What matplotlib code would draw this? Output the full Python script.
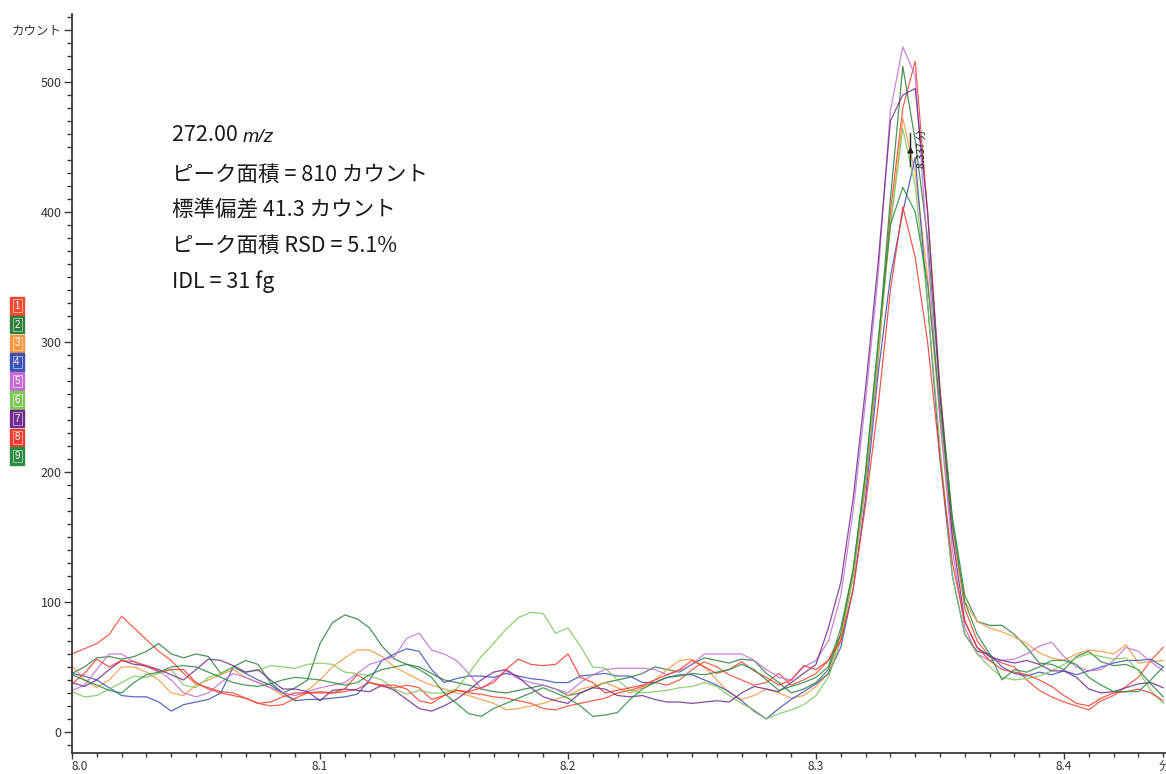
import numpy as np
import matplotlib.pyplot as plt
from matplotlib.patches import Rectangle
from matplotlib.ticker import MultipleLocator

plt.rcParams['font.family'] = ['Liberation Sans Narrow', 'Noto Sans CJK JP', 'DejaVu Sans']

# retention time grid (min), one scan every 0.005 min
rt = np.round(8.0 + 0.005 * np.arange(89), 3)

# counts for the nine replicate injections
inj1 = [60, 64, 68, 75, 89, 80, 71, 62, 55, 45,
        37, 34, 31, 30, 26, 22, 20, 21, 26, 30,
        31, 30, 31, 33, 38, 35, 34, 36, 34, 25,
        28, 32, 30, 29, 27, 26, 24, 22, 18, 17,
        20, 22, 24, 26, 30, 32, 35, 38, 36, 40,
        48, 54, 50, 44, 40, 36, 38, 45, 36, 40,
        45, 55, 75, 120, 190, 285, 400, 480, 516, 400,
        265, 160, 95, 70, 58, 53, 50, 40, 32, 27,
        23, 20, 17, 24, 28, 35, 42, 55, 65]
inj2 = [45, 50, 57, 58, 56, 58, 62, 68, 60, 57,
        60, 58, 45, 50, 55, 52, 38, 30, 34, 40,
        68, 84, 90, 87, 80, 66, 56, 52, 50, 45,
        40, 38, 36, 33, 31, 30, 32, 34, 36, 33,
        28, 30, 34, 38, 40, 42, 45, 50, 48, 46,
        52, 57, 55, 53, 56, 55, 45, 38, 30, 33,
        38, 48, 75, 125, 200, 295, 410, 512, 455, 380,
        260, 165, 105, 85, 82, 82, 75, 65, 53, 52,
        48, 58, 62, 54, 51, 52, 48, 37, 27]
inj3 = [51, 40, 34, 40, 50, 50, 46, 40, 30, 28,
        36, 40, 44, 48, 42, 38, 34, 28, 25, 32,
        40, 50, 57, 63, 63, 58, 50, 45, 40, 36,
        33, 30, 28, 25, 22, 17, 18, 20, 22, 25,
        28, 33, 35, 38, 34, 30, 34, 40, 48, 55,
        56, 50, 40, 30, 25, 28, 33, 30, 26, 28,
        35, 45, 72, 120, 195, 290, 390, 472, 430, 350,
        240, 150, 100, 85, 80, 77, 73, 68, 61, 57,
        55, 60, 63, 62, 60, 67, 53, 54, 55]
inj4 = [45, 43, 40, 34, 28, 27, 27, 23, 16, 21,
        23, 25, 30, 50, 45, 40, 36, 30, 24, 25,
        25, 26, 27, 29, 40, 55, 60, 64, 62, 48,
        38, 41, 43, 43, 42, 45, 43, 41, 40, 38,
        38, 43, 44, 45, 43, 43, 38, 38, 42, 44,
        44, 40, 36, 31, 24, 16, 10, 18, 25, 31,
        37, 45, 65, 110, 180, 275, 350, 400, 442, 330,
        210, 120, 75, 62, 60, 50, 45, 43, 46, 44,
        47, 44, 47, 50, 53, 55, 55, 56, 50]
inj5 = [32, 36, 48, 60, 60, 54, 50, 47, 40, 30,
        27, 30, 38, 45, 42, 38, 34, 30, 28, 31,
        34, 36, 38, 45, 52, 55, 58, 72, 76, 63,
        60, 55, 45, 33, 40, 47, 41, 38, 36, 33,
        30, 38, 44, 48, 49, 49, 49, 48, 44, 47,
        52, 60, 60, 60, 60, 55, 48, 42, 40, 50,
        55, 70, 105, 170, 255, 350, 478, 527, 505, 370,
        240, 140, 80, 60, 55, 55, 56, 60, 66, 69,
        58, 50, 47, 48, 55, 65, 62, 54, 47]
inj6 = [31, 27, 28, 33, 38, 43, 42, 45, 48, 36,
        34, 42, 45, 50, 46, 47, 51, 50, 49, 52,
        53, 52, 46, 45, 43, 40, 33, 29, 32, 30,
        30, 33, 45, 58, 68, 79, 88, 92, 91, 76,
        80, 66, 50, 49, 40, 32, 30, 31, 32, 34,
        35, 38, 35, 28, 22, 17, 10, 14, 17, 21,
        28, 42, 70, 120, 195, 290, 390, 464, 420, 330,
        220, 120, 75, 60, 50, 42, 40, 41, 43, 47,
        52, 57, 60, 58, 56, 57, 47, 32, 22]
inj7 = [38, 35, 40, 48, 55, 52, 51, 48, 44, 40,
        48, 56, 55, 51, 46, 48, 40, 33, 33, 31,
        24, 32, 33, 32, 31, 36, 32, 25, 18, 16,
        20, 25, 32, 40, 46, 48, 42, 34, 27, 24,
        22, 30, 34, 33, 28, 27, 28, 25, 23, 23,
        22, 23, 24, 23, 30, 35, 33, 31, 38, 45,
        52, 80, 115, 180, 265, 360, 470, 490, 495, 400,
        260, 150, 85, 65, 58, 55, 53, 55, 52, 47,
        47, 42, 33, 30, 31, 34, 37, 38, 34]
inj8 = [37, 45, 56, 50, 55, 54, 51, 46, 48, 48,
        38, 33, 30, 28, 26, 22, 23, 27, 30, 30,
        30, 30, 33, 44, 38, 36, 36, 33, 24, 22,
        28, 32, 31, 34, 38, 48, 56, 52, 51, 52,
        60, 42, 38, 30, 32, 34, 36, 40, 44, 48,
        55, 50, 45, 48, 54, 47, 42, 36, 40, 51,
        48, 55, 70, 110, 175, 250, 340, 404, 365, 300,
        210, 130, 85, 65, 55, 48, 46, 44, 40, 35,
        28, 22, 20, 26, 30, 31, 33, 30, 24]
inj9 = [44, 40, 36, 32, 30, 38, 44, 46, 50, 51,
        50, 46, 42, 38, 36, 35, 37, 40, 42, 41,
        40, 38, 36, 38, 44, 48, 50, 52, 48, 42,
        30, 22, 14, 12, 18, 22, 26, 30, 34, 30,
        26, 20, 12, 13, 15, 25, 33, 38, 42, 43,
        45, 44, 46, 48, 52, 48, 40, 32, 35, 38,
        42, 50, 80, 125, 200, 300, 390, 419, 400, 345,
        250, 160, 100, 75, 60, 40, 48, 46, 50, 55,
        55, 52, 42, 36, 31, 31, 31, 40, 50]

traces = [inj1, inj2, inj3, inj4, inj5, inj6, inj7, inj8, inj9]
trace_labels = ['1', '2', '3', '4', '5', '6', '7', '8', '9']
colors = ['#ec4a32', '#2f7f3c', '#f8973f', '#3d50b4', '#c46ed2',
          '#7fc65c', '#6f2d8c', '#ef3e30', '#2b8b42']

peak_rt = 8.337
info_lines = ['ピーク面積 = 810 カウント', '標準偏差 41.3 カウント',
              'ピーク面積 RSD = 5.1%', 'IDL = 31 fg']

W, H = 1166, 774
fig = plt.figure(figsize=(W / 100, H / 100), dpi=100)
ax = fig.add_axes([72 / W, 21 / H, 1094 / W, 739 / H])
ax.set_xlim(8.0, 8.0 + 1094 / 2480)
ax.set_ylim(-16.2, 552.3)

for vals, c in zip(traces, colors):
    ax.plot(rt, vals, color=c, lw=0.9, alpha=0.85)

# retention time marker on the apex
ax.plot([peak_rt + 0.0009] * 2, [435, 461], color='#222222', lw=1.0)
ax.plot(peak_rt + 0.0009, 448, marker='^', ms=3.5, color='#222222')
ax.text(peak_rt + 0.0057, 449, '8.337 分', rotation=90, fontsize=7.5,
        ha='center', va='center', color='#222222')

# axes styling
for s in ['top', 'right']:
    ax.spines[s].set_visible(False)
for s in ['left', 'bottom']:
    ax.spines[s].set_color('#3a3a3a')
    ax.spines[s].set_linewidth(1.3)

ax.set_xticks([8.0, 8.1, 8.2, 8.3, 8.4])
ax.set_xticklabels(['8.0', '8.1', '8.2', '8.3', '8.4'])
ax.xaxis.set_minor_locator(MultipleLocator(0.01))
ax.set_yticks([0, 100, 200, 300, 400, 500, 540])
ax.set_yticklabels(['0', '100', '200', '300', '400', '500', 'カウント'])
ax.yaxis.set_minor_locator(MultipleLocator(10))
ax.tick_params(which='major', length=6, width=1.0, color='#3a3a3a',
               labelsize=9, labelcolor='#333333', pad=1.5)
ax.tick_params(which='minor', length=3.5, width=1.0, color='#3a3a3a')
ax.tick_params(axis='x', which='major', length=4.5, pad=0.5, labelsize=8.5)
ax.tick_params(axis='x', which='minor', length=3)
for lab in ax.get_xticklabels() + ax.get_yticklabels():
    lab.set_family(['Liberation Sans Narrow', 'Noto Sans CJK JP'])
ax.get_xticklabels()[0].set_horizontalalignment('left')
fig.text(1159 / W, 1 - 766 / H, '分', fontsize=8.5, color='#333333',
         ha='left', va='center', family=['Noto Sans CJK JP'])

# annotation block
tf = ['Liberation Sans Narrow', 'Noto Sans CJK JP']
fs = 15.5
t0 = fig.text(172 / W, 1 - 135 / H, '272.00 ', fontsize=fs, family=tf,
              ha='left', va='center', color='#1a1a1a')
ax.annotate('m/z', xy=(1, 0), xycoords=t0, fontsize=fs - 1.5,
            family=['Liberation Sans'], style='italic', color='#1a1a1a',
            ha='left', va='bottom')
for k, line in enumerate(info_lines):
    fig.text(172 / W, 1 - (175 + 35.5 * k) / H, line, fontsize=fs,
             family=tf, ha='left', va='center', color='#1a1a1a')

# injection number keys
for k, (lab, c) in enumerate(zip(trace_labels, colors)):
    y0 = 1 - (297 + 18.8 * k + 17.5) / H
    fig.add_artist(Rectangle((10 / W, y0), 14 / W, 17.5 / H,
                             transform=fig.transFigure, facecolor=c,
                             edgecolor=c, lw=1.0))
    fig.add_artist(Rectangle((12.5 / W, y0 + 2.5 / H), 9 / W, 12.5 / H,
                             transform=fig.transFigure, facecolor='none',
                             edgecolor='white', lw=0.6, alpha=0.6))
    fig.text(17 / W, y0 + 8.75 / H, lab, fontsize=7, color='white',
             ha='center', va='center', family=['Liberation Sans'])

fig.savefig('out.png', dpi=100)
